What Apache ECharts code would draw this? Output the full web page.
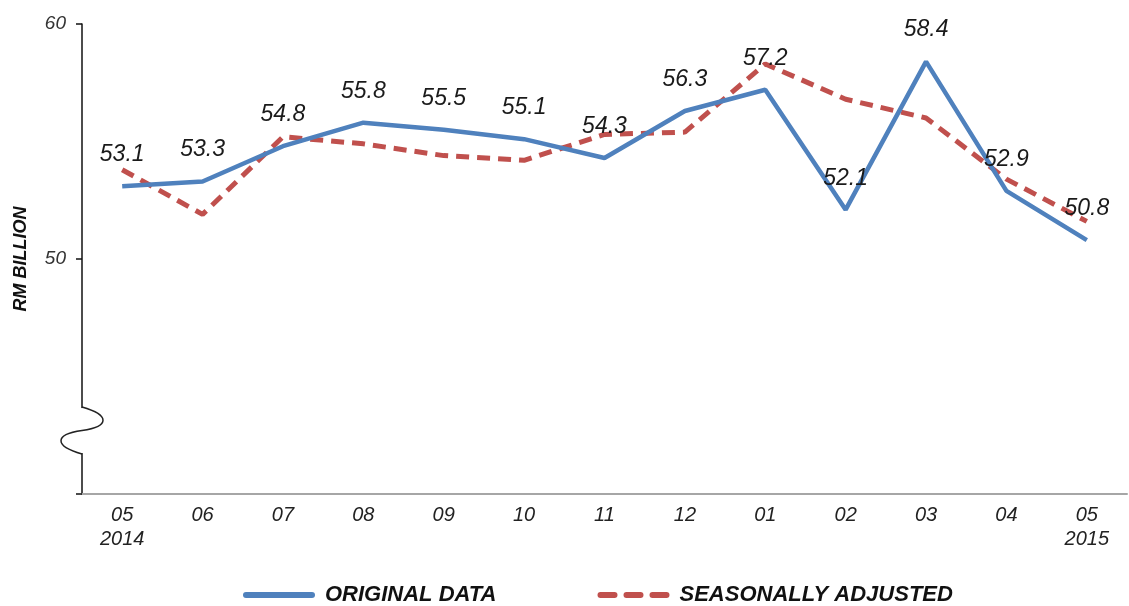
<!DOCTYPE html>
<html lang="en">
<head>
    <meta charset="UTF-8">
    <title>Original data vs seasonally adjusted</title>
    <script src="https://cdn.jsdelivr.net/npm/echarts@6.0.0/dist/echarts.min.js"></script>
    <style>
        html, body { margin: 0; padding: 0; background: #fff; }
        #chart { width: 1129px; height: 606px; }
    </style>
</head>
<body>
    <div id="chart"></div>
    <script>
        // months, May 2014 .. May 2015
        const months = ['05\n2014', '06', '07', '08', '09', '10', '11', '12', '01', '02', '03', '04', '05\n2015'];
        const originalData = [53.1, 53.3, 54.8, 55.8, 55.5, 55.1, 54.3, 56.3, 57.2, 52.1, 58.4, 52.9, 50.8];
        const seasonallyAdjusted = [53.8, 51.9, 55.2, 54.9, 54.4, 54.2, 55.3, 55.4, 58.3, 56.8, 56.0, 53.4, 51.6];
        const yTicks = [40, 50, 60];

        const font = '"Liberation Sans", Arial, sans-serif';
        const chart = echarts.init(document.getElementById('chart'));

        // legend icons: solid bar and three dashes
        const solidIcon = 'path://M3,0H69A3,3 0 0 1 69,6H3A3,3 0 0 1 3,0Z';
        const dashIcon = 'path://M3,0H17A3,3 0 0 1 17,6H3A3,3 0 0 1 3,0Z' +
            'M29,0H43A3,3 0 0 1 43,6H29A3,3 0 0 1 29,0Z' +
            'M55,0H69A3,3 0 0 1 69,6H55A3,3 0 0 1 55,0Z';

        const option = {
            animation: false,
            grid: { left: 82, right: 2, top: 24, bottom: 112, containLabel: false },
            legend: {
                left: 243,
                bottom: 0,
                padding: 0,
                itemWidth: 72,
                itemHeight: 6,
                itemGap: 101,
                textStyle: {
                    fontFamily: font, fontSize: 22, fontWeight: 'bold', fontStyle: 'italic',
                    color: '#111', padding: [0, 0, 0, 5]
                },
                data: [
                    { name: 'ORIGINAL DATA', icon: solidIcon },
                    { name: 'SEASONALLY ADJUSTED', icon: dashIcon }
                ]
            },
            xAxis: {
                type: 'category',
                data: months,
                boundaryGap: true,
                axisLine: { lineStyle: { color: '#a6a6a6', width: 2 } },
                axisTick: { alignWithLabel: true, length: 5, lineStyle: { color: '#a6a6a6', width: 1.5 } },
                axisLabel: {
                    margin: 9, fontFamily: font, fontSize: 20, fontStyle: 'italic',
                    color: '#222', lineHeight: 24
                }
            },
            yAxis: {
                type: 'value',
                min: yTicks[0],
                max: yTicks[yTicks.length - 1],
                interval: 10,
                name: 'RM BILLION',
                nameLocation: 'middle',
                nameGap: 52,
                nameTextStyle: {
                    fontFamily: font, fontSize: 18, fontWeight: 'bold', fontStyle: 'italic', color: '#111'
                },
                splitLine: { show: false },
                axisLine: { show: true, lineStyle: { color: '#111', width: 1.5 } },
                axisTick: { show: true, length: 6, lineStyle: { color: '#111', width: 1.5 } },
                axisLabel: {
                    margin: 16, fontFamily: font, fontSize: 19, fontStyle: 'italic', color: '#333',
                    formatter: v => (v === yTicks[0] ? '' : String(v))
                }
            },
            series: [
                {
                    name: 'ORIGINAL DATA',
                    type: 'line',
                    data: originalData,
                    symbol: 'circle',
                    symbolSize: 0,
                    showSymbol: true,
                    z: 3,
                    lineStyle: { color: '#4f81bd', width: 4.5 },
                    itemStyle: { color: '#4f81bd' },
                    label: {
                        show: true,
                        position: 'top',
                        distance: 20,
                        fontFamily: font,
                        fontSize: 23,
                        fontStyle: 'italic',
                        color: '#1a1a1a',
                        formatter: p => p.value.toFixed(1)
                    }
                },
                {
                    name: 'SEASONALLY ADJUSTED',
                    type: 'line',
                    data: seasonallyAdjusted,
                    symbol: 'none',
                    z: 2,
                    lineStyle: { color: '#c0504d', width: 5, type: [13, 8] },
                    itemStyle: { color: '#c0504d' }
                }
            ]
        };
        chart.setOption(option);

        // axis break mark on the y axis
        const x0 = 82;
        const y1 = chart.convertToPixel({ yAxisIndex: 0 }, 43.7);
        const y2 = chart.convertToPixel({ yAxisIndex: 0 }, 41.7);
        const ym = (y1 + y2) / 2;
        const breakStyle = { stroke: '#222', lineWidth: 1.5, fill: null };
        chart.setOption({
            graphic: [
                { type: 'rect', z: 100, shape: { x: x0 - 3, y: y1 + 1, width: 6, height: y2 - y1 - 2 }, style: { fill: '#fff' } },
                { type: 'bezierCurve', z: 101, shape: { x1: x0, y1: y1, cpx1: x0 + 28, cpy1: y1 + 8, cpx2: x0 + 28, cpy2: ym - 4, x2: x0, y2: ym }, style: breakStyle },
                { type: 'bezierCurve', z: 101, shape: { x1: x0, y1: ym, cpx1: x0 - 28, cpy1: ym + 4, cpx2: x0 - 28, cpy2: y2 - 8, x2: x0, y2: y2 }, style: breakStyle }
            ]
        });
    </script>
</body>
</html>
